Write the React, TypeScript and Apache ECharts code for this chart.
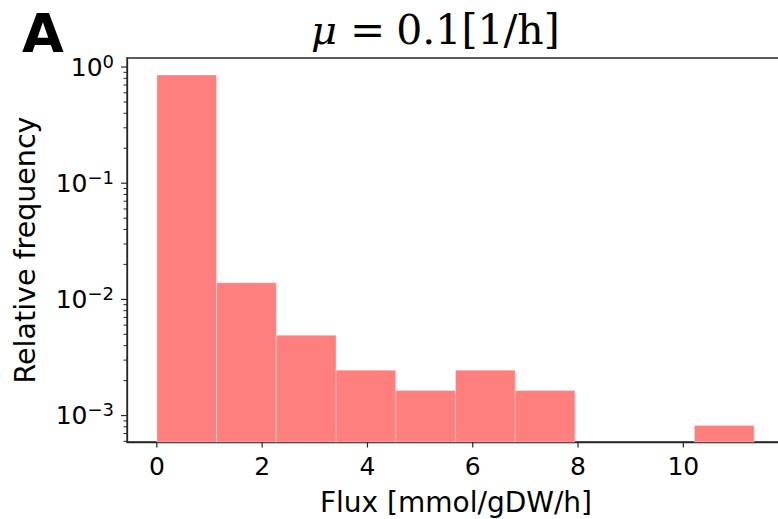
import React, { useEffect, useRef } from "react";
import * as echarts from "echarts";

// Histogram bin edges (Flux [mmol/gDW/h]) and relative frequency (density) per bin
const binEdges = [0, 1.1345, 2.269, 3.4035, 4.538, 5.6725, 6.807, 7.9415, 9.076, 10.21, 11.345];
const relFreq = [0.854, 0.0139, 0.00492, 0.00246, 0.00164, 0.00246, 0.00164, 0, 0, 0.00082];

const xTicks = [0, 2, 4, 6, 8, 10];
const yMajorTicks = [1e-3, 1e-2, 1e-1, 1];
const yMinorTicks = [
  6e-4, 7e-4, 8e-4, 9e-4,
  2e-3, 3e-3, 4e-3, 5e-3, 6e-3, 7e-3, 8e-3, 9e-3,
  2e-2, 3e-2, 4e-2, 5e-2, 6e-2, 7e-2, 8e-2, 9e-2,
  2e-1, 3e-1, 4e-1, 5e-1, 6e-1, 7e-1, 8e-1, 9e-1,
];
const xRange = [-0.567, 11.912];
const yRange = [5.92e-4, 1.196];

const titleValue = "0.1[1/h]";
const panelLabel = "A";
const xLabel = "Flux [mmol/gDW/h]";
const yLabel = "Relative frequency";

export default function App() {
  const ref = useRef<HTMLDivElement>(null);
  useEffect(() => {
    if (!ref.current) return;
    const chart = echarts.init(ref.current, null, { renderer: "svg" });
    const data = relFreq
      .map((v, i) => [binEdges[i], binEdges[i + 1], v])
      .filter((d) => d[2] > 0);
    const axisColor = "#262626";
    const font = "DejaVu Sans";
    const supFormatter = (v: number) => {
      const e = Math.round(Math.log10(v));
      const s = e < 0 ? "\u2212" + -e : String(e);
      return `{b|10}{s|${s}}`;
    };

    // Pixel positions of the ticks, as mapped by the chart's own scales
    const cap: { x: number[]; yMaj: number[]; yMin: number[]; left: number; bottom: number } = {
      x: [],
      yMaj: [],
      yMin: [],
      left: NaN,
      bottom: NaN,
    };

    const texts: any[] = [
      {
        type: "text",
        x: 311,
        y: 30,
        style: {
          text: `{i|\u03bc}{e|=}{n|${titleValue}}`,
          align: "left",
          verticalAlign: "middle",
          rich: {
            i: { fontSize: 40, fontFamily: "DejaVu Serif", fontStyle: "italic", fill: "#000" },
            e: { fontSize: 42, fontFamily: "DejaVu Serif", fill: "#000", padding: [0, 11, 0, 13] },
            n: { fontSize: 41, fontFamily: "DejaVu Serif", fill: "#000" },
          },
        },
      },
      {
        type: "text",
        x: 43,
        y: 33,
        style: {
          text: panelLabel,
          align: "center",
          verticalAlign: "middle",
          fontSize: 54,
          fontWeight: "bold",
          fontFamily: font,
          fill: "#000",
        },
      },
      {
        type: "text",
        x: 456,
        y: 502,
        style: {
          text: xLabel,
          align: "center",
          verticalAlign: "middle",
          fontSize: 28,
          fontFamily: font,
          fill: "#000",
        },
      },
      {
        type: "text",
        x: 25,
        y: 250,
        rotation: Math.PI / 2,
        style: {
          text: yLabel,
          align: "center",
          verticalAlign: "middle",
          fontSize: 28.5,
          fontFamily: font,
          fill: "#000",
        },
      },
    ];

    chart.setOption({
      animation: false,
      backgroundColor: "#fff",
      grid: {
        left: 127,
        top: 58,
        width: 657,
        height: 384,
        show: true,
        borderColor: axisColor,
        borderWidth: 1.3,
        backgroundColor: "transparent",
      },
      xAxis: {
        type: "value",
        min: xRange[0],
        max: xRange[1],
        axisLine: { show: true, onZero: false, lineStyle: { color: axisColor, width: 1.3 } },
        splitLine: { show: false },
        axisTick: { show: false },
        axisLabel: {
          customValues: xTicks,
          margin: 12,
          fontSize: 25,
          fontFamily: font,
          color: "#000",
        },
      },
      yAxis: {
        type: "log",
        min: yRange[0],
        max: yRange[1],
        axisLine: { show: true, onZero: false, lineStyle: { color: axisColor, width: 1.3 } },
        splitLine: { show: false },
        axisTick: { show: false },
        axisLabel: {
          customValues: yMajorTicks,
          margin: 13,
          formatter: supFormatter,
          rich: {
            b: { fontSize: 25, fontFamily: font, color: "#000", lineHeight: 30 },
            s: { fontSize: 18, fontFamily: font, color: "#000", verticalAlign: "top", lineHeight: 18 },
          },
        },
      },
      series: [
        {
          type: "custom",
          data,
          encode: { x: [0, 1], y: 2 },
          renderItem: (params: any, api: any) => {
            if (params.dataIndex === 0) {
              try {
                cap.x = xTicks.map((v) => api.coord([v, binEdges[1]])[0]);
                cap.yMaj = yMajorTicks.map((v) => api.coord([binEdges[0], v])[1]);
                cap.yMin = yMinorTicks.map((v) => api.coord([binEdges[0], v])[1]);
                cap.left = api.coord([xRange[0], 0.01])[0];
                cap.bottom = api.coord([binEdges[0], yRange[0]])[1];
              } catch (e) {
                /* ignore */
              }
            }
            const p0 = api.coord([api.value(0), api.value(2)]);
            const p1 = api.coord([api.value(1), yRange[0]]);
            return {
              type: "rect",
              shape: { x: p0[0], y: p0[1], width: p1[0] - p0[0], height: p1[1] - p0[1] },
              style: { fill: "#ff7f7f", stroke: "rgba(255,255,255,0.35)", lineWidth: 1 },
            };
          },
        },
      ],
      graphic: { elements: texts },
    });

    const ok = (a: number[]) => a.length > 0 && a.every((v) => isFinite(v));

    // Fallback: convert with the series' coordinate system
    const fromConvert = () => {
      try {
        const conv = (x: number, y: number) => {
          const r: any = chart.convertToPixel({ seriesIndex: 0 }, [x, y]);
          return Array.isArray(r) ? r : [NaN, NaN];
        };
        return {
          x: xTicks.map((v) => conv(v, 0.01)[0]),
          yMaj: yMajorTicks.map((v) => conv(0, v)[1]),
          yMin: yMinorTicks.map((v) => conv(0, v)[1]),
          left: conv(xRange[0], 0.01)[0],
          bottom: conv(0, yRange[0])[1],
        };
      } catch (e) {
        return null;
      }
    };

    let done = false;
    const applyTicks = () => {
      if (done) return;
      let t: any = null;
      if (ok(cap.x) && ok(cap.yMaj) && ok(cap.yMin) && isFinite(cap.left) && isFinite(cap.bottom)) {
        t = cap;
      } else {
        const c = fromConvert();
        if (c && ok(c.x) && ok(c.yMaj) && ok(c.yMin) && isFinite(c.left) && isFinite(c.bottom)) t = c;
      }
      if (!t) return;
      done = true;
      const mk = (x: number, y: number, w: number, h: number) => ({
        type: "rect",
        z: 10,
        shape: { x, y, width: w, height: h },
        style: { fill: axisColor },
      });
      const ticks: any[] = [];
      t.x.forEach((px: number) => ticks.push(mk(px - 0.6, t.bottom, 1.2, 5.5)));
      t.yMaj.forEach((py: number) => ticks.push(mk(t.left - 6, py - 0.6, 6, 1.2)));
      t.yMin.forEach((py: number) => ticks.push(mk(t.left - 3.5, py - 0.5, 3.5, 1)));
      chart.setOption({ graphic: { elements: [...texts, ...ticks] } });
    };
    applyTicks();
    chart.on("finished", applyTicks);
    const timer = setTimeout(applyTicks, 50);
    return () => {
      clearTimeout(timer);
      chart.dispose();
    };
  }, []);
  return (
    <div
      style={{
        position: "fixed",
        left: 0,
        top: 0,
        width: 778,
        height: 519,
        overflow: "hidden",
        background: "#fff",
      }}
    >
      <div ref={ref} style={{ width: 800, height: 519 }} />
    </div>
  );
}
